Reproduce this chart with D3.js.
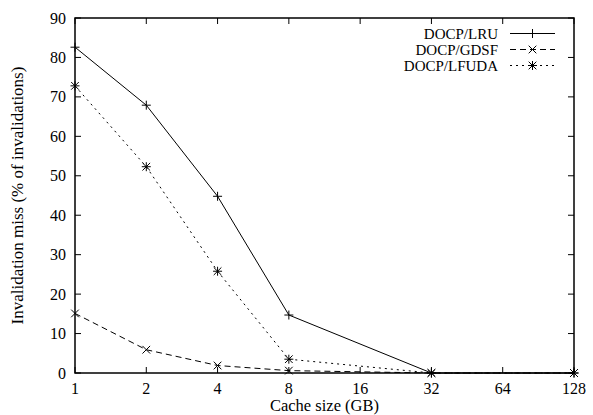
<!DOCTYPE html>
<html>
<head>
<meta charset="utf-8">
<script src="https://cdn.jsdelivr.net/npm/d3@7"></script>
<style>
  body { margin: 0; background: #fff; }
</style>
</head>
<body>
<div id="chart"></div>
<script>
// cache sizes (GB) and invalidation miss values
const sizes = [1, 2, 4, 8, 32, 128];
const lru = [82.6, 67.9, 44.8, 14.7, 0, 0];
const gdsf = [15.1, 5.9, 1.9, 0.6, 0, 0];
const lfuda = [72.8, 52.3, 25.8, 3.5, 0, 0];
const xTicks = [1, 2, 4, 8, 16, 32, 64, 128];
const yTicks = [0, 10, 20, 30, 40, 50, 60, 70, 80, 90];

const series = [
  { name: "DOCP/LRU", values: lru, dash: null, marker: "plus" },
  { name: "DOCP/GDSF", values: gdsf, dash: "6,4", marker: "cross" },
  { name: "DOCP/LFUDA", values: lfuda, dash: "2,4", marker: "star" }
];

const width = 593, height = 415;
const margin = { top: 18, right: 19, bottom: 42, left: 75 };
const font = "Liberation Serif";

const svg = d3.select("#chart").append("svg")
  .attr("width", width)
  .attr("height", height)
  .attr("font-family", font);

const x = d3.scaleLog().base(2).domain([1, 128]).range([margin.left, width - margin.right]);
const y = d3.scaleLinear().domain([0, 90]).range([height - margin.bottom, margin.top]);

// inner ticks on all four sides
const tick = 6;
const axes = svg.append("g").attr("stroke", "#000").attr("stroke-width", 1);
xTicks.forEach(t => {
  axes.append("line").attr("x1", x(t)).attr("x2", x(t)).attr("y1", y(0)).attr("y2", y(0) - tick);
  axes.append("line").attr("x1", x(t)).attr("x2", x(t)).attr("y1", y(90)).attr("y2", y(90) + tick);
});
yTicks.forEach(t => {
  axes.append("line").attr("x1", x(1)).attr("x2", x(1) + tick).attr("y1", y(t)).attr("y2", y(t));
  axes.append("line").attr("x1", x(128)).attr("x2", x(128) - tick).attr("y1", y(t)).attr("y2", y(t));
});

svg.selectAll(".xlab").data(xTicks).enter().append("text")
  .attr("font-family", font)
  .attr("x", d => x(d)).attr("y", y(0) + 21)
  .attr("text-anchor", "middle").attr("font-size", "16px")
  .text(d => d);

svg.selectAll(".ylab").data(yTicks).enter().append("text")
  .attr("font-family", font)
  .attr("x", x(1) - 9).attr("y", d => y(d) + 5.5)
  .attr("text-anchor", "end").attr("font-size", "16px")
  .text(d => d);

svg.append("text")
  .attr("font-family", font)
  .attr("x", (x(1) + x(128)) / 2).attr("y", height - 4)
  .attr("text-anchor", "middle").attr("font-size", "16.5px")
  .text("Cache size (GB)");

svg.append("text")
  .attr("font-family", font)
  .attr("transform", `translate(23, ${(y(0) + y(90)) / 2}) rotate(-90)`)
  .attr("text-anchor", "middle").attr("font-size", "17px")
  .text("Invalidation miss (% of invalidations)");

// marker shapes
function marker(g, type, cx, cy) {
  const s = 4.5;
  const m = g.append("g").attr("stroke", "#000").attr("stroke-width", 1);
  if (type === "plus" || type === "star") {
    m.append("line").attr("x1", cx - s).attr("x2", cx + s).attr("y1", cy).attr("y2", cy);
    m.append("line").attr("x1", cx).attr("x2", cx).attr("y1", cy - s).attr("y2", cy + s);
  }
  if (type === "cross" || type === "star") {
    const d = s * 0.85;
    m.append("line").attr("x1", cx - d).attr("x2", cx + d).attr("y1", cy - d).attr("y2", cy + d);
    m.append("line").attr("x1", cx - d).attr("x2", cx + d).attr("y1", cy + d).attr("y2", cy - d);
  }
}

const line = d3.line().x(d => x(d[0])).y(d => y(d[1]));

series.forEach(s => {
  const pts = sizes.map((v, i) => [v, s.values[i]]);
  svg.append("path")
    .attr("d", line(pts))
    .attr("fill", "none")
    .attr("stroke", "#000")
    .attr("stroke-width", 1)
    .attr("stroke-dasharray", s.dash);
  const g = svg.append("g");
  pts.forEach(p => marker(g, s.marker, x(p[0]), y(p[1])));
});

// frame
svg.append("rect")
  .attr("x", x(1)).attr("y", y(90))
  .attr("width", x(128) - x(1)).attr("height", y(0) - y(90))
  .attr("fill", "none").attr("stroke", "#000").attr("stroke-width", 1.5);

// legend
const legend = svg.selectAll(".legend").data(series).enter().append("g")
  .attr("transform", (d, i) => `translate(0, ${33.5 + i * 16})`);
legend.append("text")
  .attr("font-family", font)
  .attr("x", 498).attr("y", 5)
  .attr("text-anchor", "end").attr("font-size", "15px")
  .text(d => d.name);
legend.append("line")
  .attr("x1", 510).attr("x2", 555).attr("y1", 0).attr("y2", 0)
  .attr("stroke", "#000").attr("stroke-width", 1)
  .attr("stroke-dasharray", d => d.dash);
legend.each(function (d) { marker(d3.select(this), d.marker, 532.5, 0); });
</script>
</body>
</html>
